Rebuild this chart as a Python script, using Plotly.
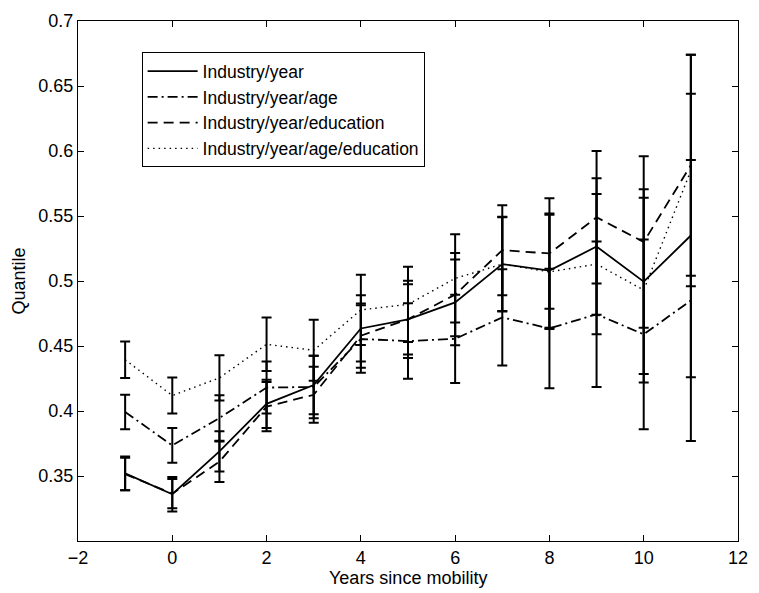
import plotly.graph_objects as go

years = [-1, 0, 1, 2, 3, 4, 5, 6, 7, 8, 9, 10, 11]

names = ["Industry/year", "Industry/year/age", "Industry/year/education",
         "Industry/year/age/education"]

ind_year = [0.352, 0.336, 0.369, 0.4055, 0.420, 0.4635, 0.4705, 0.4835, 0.513, 0.508, 0.5265, 0.4995, 0.535]
ind_year_err = [0.013, 0.0133, 0.0155, 0.0185, 0.0225, 0.0255, 0.027, 0.033, 0.0365, 0.044, 0.0525, 0.071, 0.109]

ind_year_age = [0.3992, 0.3735, 0.3946, 0.418, 0.4185, 0.4554, 0.4538, 0.4555, 0.472, 0.4635, 0.4744, 0.459, 0.485]
ind_year_age_err = [0.0133, 0.0134, 0.0175, 0.020, 0.024, 0.026, 0.029, 0.034, 0.037, 0.046, 0.056, 0.073, 0.108]

ind_year_edu = [0.3515, 0.3364, 0.361, 0.4034, 0.4125, 0.4579, 0.4705, 0.4895, 0.5237, 0.5212, 0.549, 0.530, 0.589]
ind_year_edu_err = [0.0125, 0.0112, 0.0156, 0.019, 0.0215, 0.0247, 0.0297, 0.032, 0.0346, 0.0425, 0.051, 0.066, 0.085]

ind_year_age_edu = [0.4394, 0.4119, 0.4255, 0.4513, 0.4467, 0.4778, 0.482, 0.502, 0.513, 0.507, 0.513, 0.493, 0.585]
ind_year_age_edu_err = [0.014, 0.0138, 0.0174, 0.0206, 0.0235, 0.027, 0.029, 0.034, 0.036, 0.044, 0.054, 0.071, 0.089]

y_ticks = [0.35, 0.4, 0.45, 0.5, 0.55, 0.6, 0.65, 0.7]
y_ticktext = ["0.35", "0.4", "0.45", "0.5", "0.55", "0.6", "0.65", "0.7"]

series = [
    (names[0], ind_year, ind_year_err, "solid", 1.8),
    (names[1], ind_year_age, ind_year_age_err, "10px,4px,2px,4px", 1.8),
    (names[2], ind_year_edu, ind_year_edu_err, "10px,6px", 1.8),
    (names[3], ind_year_age_edu, ind_year_age_edu_err, "1.5px,4px", 1.4),
]

FONT = "Liberation Sans, Arial, Helvetica, sans-serif"
FS = 18

fig = go.Figure()
for name, vals, errs, dash, lw in series:
    fig.add_trace(go.Scatter(
        x=years, y=vals, mode="lines", name=name,
        line=dict(color="black", width=lw, dash=dash),
        error_y=dict(type="data", array=errs, visible=True,
                     color="black", thickness=2, width=5),
    ))

fig.update_layout(
    width=759, height=593, autosize=False,
    margin=dict(l=78, r=11, t=14, b=52),
    paper_bgcolor="white", plot_bgcolor="white",
    font=dict(family=FONT, size=FS, color="black"),
    showlegend=True,
    legend=dict(x=0.0964, y=0.94, xanchor="left", yanchor="top",
                bgcolor="white", bordercolor="black", borderwidth=1,
                font=dict(family=FONT, size=17.5, color="black"),
                itemwidth=50, entrywidth=238, entrywidthmode="pixels",
                tracegroupgap=0),
    annotations=[dict(text="Years since mobility", xref="paper", yref="paper",
                      x=0.5, y=-0.048, xanchor="center", yanchor="top",
                      showarrow=False, font=dict(family=FONT, size=FS))],
)
fig.update_xaxes(
    range=[-2, 12], tickmode="linear", tick0=-2, dtick=2,
    showline=True, linecolor="black", linewidth=1, mirror="ticks",
    ticks="inside", ticklen=6, tickcolor="black",
    showgrid=False, zeroline=False, ticklabeloverflow="allow",
    tickfont=dict(family=FONT, size=FS),
)
fig.update_yaxes(
    range=[0.3, 0.7], tickvals=y_ticks, ticktext=y_ticktext,
    showline=True, linecolor="black", linewidth=1, mirror="ticks",
    ticks="inside", ticklen=6, tickcolor="black",
    showgrid=False, zeroline=False, ticklabeloverflow="allow",
    title=dict(text="Quantile", standoff=8, font=dict(family=FONT, size=FS)),
    tickfont=dict(family=FONT, size=FS),
)

# remove the browser's default 8px body margin so the figure fills the window
fig.write_html("out.html", config={"displayModeBar": False},
               post_script="document.body.style.margin='0';")
